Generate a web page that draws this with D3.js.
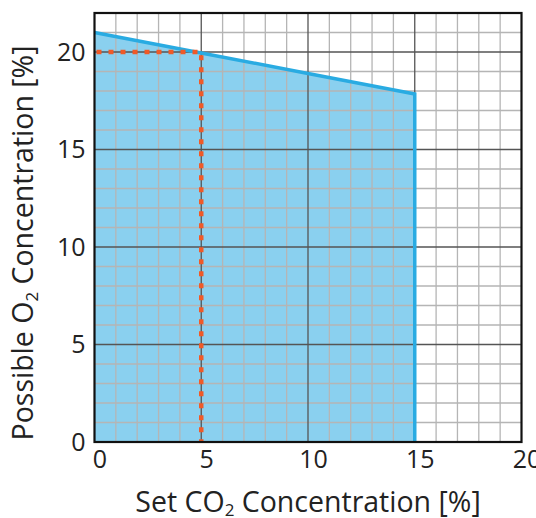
<!DOCTYPE html>
<html>
<head>
<meta charset="utf-8">
<script src="https://cdn.jsdelivr.net/npm/d3@7"></script>
<style>
  body { margin: 0; background: #fff; }
  svg { display: block; font-family: "Open Sans", sans-serif; }
</style>
</head>
<body>
<div id="chart"></div>
<script>
// CO2 set point vs. possible O2 (air diluted by CO2)
const co2 = [0, 5, 10, 15];
const o2 = [21, 19.95, 18.9, 17.85];
const markerPoint = [5, 20];
const xTicks = [0, 5, 10, 15, 20];
const yTicks = [0, 5, 10, 15, 20];

const width = 536;
const height = 518;
const margin = {top: 13, right: 14.5, bottom: 76, left: 94.5};

const x = d3.scaleLinear().domain([0, 20]).range([margin.left, width - margin.right]);
const y = d3.scaleLinear().domain([0, 22]).range([height - margin.bottom, margin.top]);

const svg = d3.create("svg")
  .attr("width", width)
  .attr("height", height);

// filled region
const pts = co2.map((c, i) => [c, o2[i]]);
const area = d3.area().x(d => x(d[0])).y0(y(0)).y1(d => y(d[1]));
svg.append("path")
  .datum(pts)
  .attr("fill", "#8ad0ef")
  .attr("d", area);

// grid
const gGrid = svg.append("g");
gGrid.selectAll("line.vx")
  .data(d3.range(1, 20).filter(d => d % 5 !== 0))
  .join("line")
  .attr("x1", d => x(d)).attr("x2", d => x(d))
  .attr("y1", y(0)).attr("y2", y(22))
  .attr("stroke", "#b5b5b5").attr("stroke-width", 1.3);
gGrid.selectAll("line.hy")
  .data(d3.range(1, 22).filter(d => d % 5 !== 0))
  .join("line")
  .attr("x1", x(0)).attr("x2", x(20))
  .attr("y1", d => y(d)).attr("y2", d => y(d))
  .attr("stroke", "#b5b5b5").attr("stroke-width", 1.3);
gGrid.selectAll("line.mx")
  .data([5, 10, 15])
  .join("line")
  .attr("x1", d => x(d)).attr("x2", d => x(d))
  .attr("y1", y(0)).attr("y2", y(22))
  .attr("stroke", "#555").attr("stroke-width", 1.3);
svg.append("g").selectAll("line")
  .data([5, 10, 15, 20])
  .join("line")
  .attr("x1", x(0)).attr("x2", x(20))
  .attr("y1", d => y(d)).attr("y2", d => y(d))
  .attr("stroke", "#555").attr("stroke-width", 1.3);

// boundary line
const last = pts[pts.length - 1];
svg.append("path")
  .datum(pts.concat([[last[0], 0]]))
  .attr("fill", "none")
  .attr("stroke", "#29abe2")
  .attr("stroke-width", 3.5)
  .attr("d", d3.line().x(d => x(d[0])).y(d => y(d[1])));

// red dashed guide
svg.append("path")
  .datum([[0, markerPoint[1]], markerPoint, [markerPoint[0], 0]])
  .attr("fill", "none")
  .attr("stroke", "#f05a28")
  .attr("stroke-width", 4.5)
  .attr("stroke-dasharray", "5,7")
  .attr("stroke-dashoffset", -2)
  .attr("d", d3.line().x(d => x(d[0])).y(d => y(d[1])));

// frame
svg.append("rect")
  .attr("x", x(0)).attr("y", y(22))
  .attr("width", x(20) - x(0)).attr("height", y(0) - y(22))
  .attr("fill", "none").attr("stroke", "#111").attr("stroke-width", 2.2);

// axes
const xAxis = svg.append("g")
  .attr("transform", `translate(0,${y(0)})`)
  .call(d3.axisBottom(x).tickValues(xTicks).tickSize(0).tickPadding(8));
xAxis.select(".domain").remove();
xAxis.selectAll("text")
  .attr("font-size", 25).attr("fill", "#222")
  .attr("font-family", "Open Sans, sans-serif")
  .attr("dx", 5);

const yAxis = svg.append("g")
  .attr("transform", `translate(${x(0)},0)`)
  .call(d3.axisLeft(y).tickValues(yTicks).tickSize(0).tickPadding(9));
yAxis.select(".domain").remove();
yAxis.selectAll("text")
  .attr("font-size", 25).attr("fill", "#222")
  .attr("font-family", "Open Sans, sans-serif");

// axis titles
const xt = svg.append("text")
  .attr("x", 308)
  .attr("y", 512)
  .attr("text-anchor", "middle")
  .attr("font-size", 28.5)
  .attr("fill", "#222");
xt.append("tspan").text("Set CO");
xt.append("tspan").text("2").attr("font-size", 17).attr("dy", 4);
xt.append("tspan").text(" Concentration [%]").attr("dy", -4);

const yt = svg.append("text")
  .attr("transform", `translate(33,243) rotate(-90)`)
  .attr("text-anchor", "middle")
  .attr("font-size", 28.5)
  .attr("fill", "#222");
yt.append("tspan").text("Possible O");
yt.append("tspan").text("2").attr("font-size", 17).attr("dy", 5);
yt.append("tspan").text(" Concentration [%]").attr("dy", -5);

document.getElementById("chart").appendChild(svg.node());
</script>
</body>
</html>
